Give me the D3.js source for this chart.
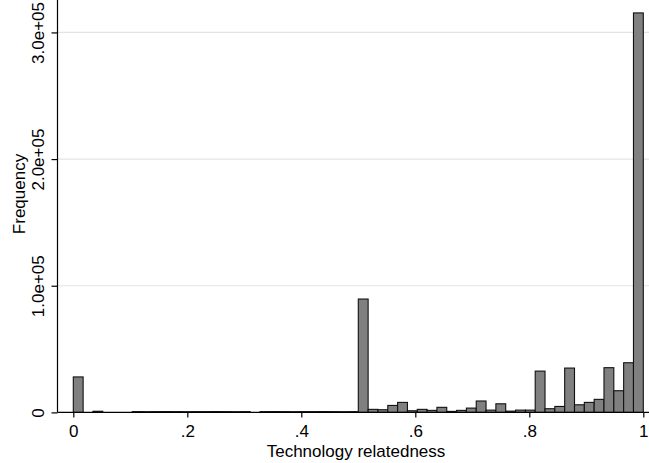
<!DOCTYPE html>
<html>
<head>
<meta charset="utf-8">
<script src="https://cdn.jsdelivr.net/npm/d3@7"></script>
<style>
  html, body { margin: 0; padding: 0; background: #fff; }
  svg { display: block; font-family: "Liberation Sans", Arial, sans-serif; }
</style>
</head>
<body>
<svg id="chart" width="649" height="463"></svg>
<script>
// ---- data ----
const binCount = 58;              // histogram bins over [0, 1]
const xDomain = [0, 1];
const frequencies = [
  28000, 0, 900, 0, 0, 0,
  600, 550, 600, 650, 600, 550, 600, 600, 650, 600, 550, 600,
  0,
  600, 650, 600, 550, 600, 600, 650, 600, 550, 600,
  89500, 2400, 2100, 5500, 7900, 1300, 2400, 1600, 4000, 800,
  1600, 3400, 9000, 1800, 6800, 1000, 1800, 1800, 32600, 2900,
  4700, 35000, 6000, 7900, 10300, 35300, 17100, 39200, 315400
];
const xTicks = [0, 0.2, 0.4, 0.6, 0.8, 1];
const xTickLabels = ["0", ".2", ".4", ".6", ".8", "1"];
const yTicks = [0, 100000, 200000, 300000];
const yTickLabels = ["0", "1.0e+05", "2.0e+05", "3.0e+05"];
const xTitle = "Technology relatedness";
const yTitle = "Frequency";

// ---- layout ----
const FS = 17;
const svg = d3.select("#chart");
const x = d3.scaleLinear().domain(xDomain).range([73.3, 643.3]);
const y = d3.scaleLinear().domain([0, 325600]).range([412.4, 0]);
const axisLeftX = 57.5, axisRightX = 649;

const bins = frequencies.map((f, i) => ({
  x0: xDomain[0] + i * (xDomain[1] - xDomain[0]) / binCount,
  x1: xDomain[0] + (i + 1) * (xDomain[1] - xDomain[0]) / binCount,
  f
}));

// gridlines
svg.append("g").selectAll("line")
  .data(yTicks.filter(d => d > 0))
  .join("line")
  .attr("x1", axisLeftX).attr("x2", axisRightX)
  .attr("y1", d => y(d)).attr("y2", d => y(d))
  .attr("stroke", "#e3e3e3").attr("stroke-width", 1.2);

// bars
svg.append("g").selectAll("rect")
  .data(bins.filter(b => b.f > 0))
  .join("rect")
  .attr("x", b => x(b.x0))
  .attr("width", b => x(b.x1) - x(b.x0))
  .attr("y", b => y(b.f))
  .attr("height", b => y(0) - y(b.f))
  .attr("fill", "#808080")
  .attr("stroke", "#111")
  .attr("stroke-width", 1.1);

// x axis
const xAxis = d3.axisBottom(x)
  .tickValues(xTicks)
  .tickFormat((d, i) => xTickLabels[i])
  .tickSize(5).tickPadding(8).tickSizeOuter(0);
const gx = svg.append("g").attr("transform", `translate(0,${y(0)})`).call(xAxis);
gx.select(".domain").remove();
gx.append("line").attr("x1", axisLeftX).attr("x2", axisRightX)
  .attr("y1", 0).attr("y2", 0).attr("stroke", "#000").attr("stroke-width", 1.2);
gx.selectAll(".tick line").attr("stroke", "#000").attr("stroke-width", 1.2);
gx.selectAll(".tick text").attr("font-size", FS).attr("fill", "#000")
  .attr("font-family", "'Liberation Sans', Arial, sans-serif");

// y axis
const yAxis = d3.axisLeft(y)
  .tickValues(yTicks)
  .tickFormat((d, i) => yTickLabels[i])
  .tickSize(6).tickSizeOuter(0);
const gy = svg.append("g").attr("transform", `translate(${axisLeftX},0)`).call(yAxis);
gy.select(".domain").remove();
gy.append("line").attr("x1", 0).attr("x2", 0)
  .attr("y1", 0).attr("y2", y(0)).attr("stroke", "#000").attr("stroke-width", 1.2);
gy.selectAll(".tick line").attr("stroke", "#000").attr("stroke-width", 1.2);
gy.selectAll(".tick text")
  .attr("font-size", FS).attr("fill", "#000")
  .attr("font-family", "'Liberation Sans', Arial, sans-serif")
  .attr("x", null).attr("dy", null)
  .attr("text-anchor", "middle")
  .attr("transform", "translate(-14,0) rotate(-90)");

// titles
svg.append("text")
  .attr("x", 356).attr("y", 457)
  .attr("text-anchor", "middle")
  .attr("font-size", FS).attr("fill", "#000")
  .text(xTitle);
svg.append("text")
  .attr("transform", "translate(25,194) rotate(-90)")
  .attr("text-anchor", "middle")
  .attr("font-size", FS).attr("fill", "#000")
  .text(yTitle);
</script>
</body>
</html>
